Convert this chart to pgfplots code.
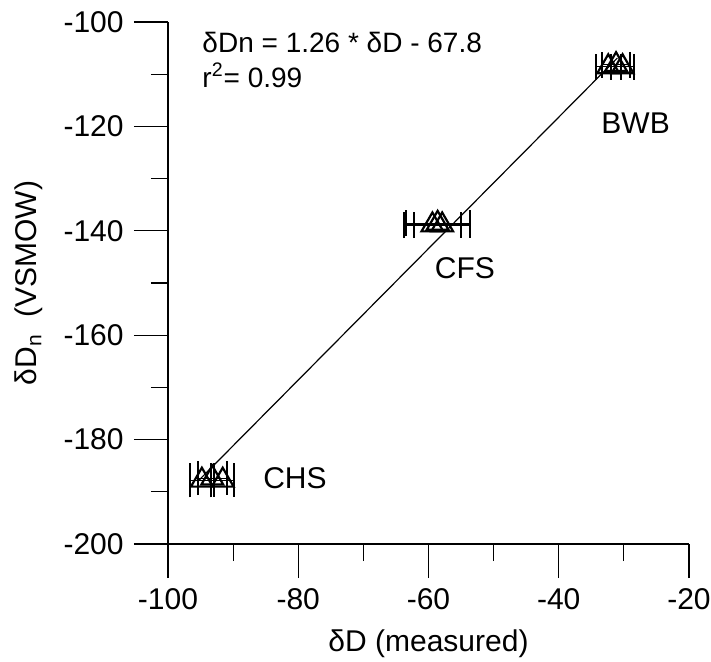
\documentclass[border=0pt]{standalone}
\usepackage{fontspec}
\setmainfont{Liberation Sans}
\usepackage{pgfplots}
\pgfplotsset{compat=1.18}

% measured delta D and normalised delta Dn, three sites
\pgfplotstableread{
x      y       ex
-94.8  -187.8  1.8
-93.2  -187.4  2.2
-91.6  -187.8  1.8
}\chs
\pgfplotstableread{
x      y       ex
-59.4  -138.9  4.4
-58.6  -138.6  4.9
-57.9  -138.9  4.3
}\cfs
\pgfplotstableread{
x      y       ex
-32.4  -108.6  1.9
-31.2  -108.2  2.2
-30.2  -108.6  1.8
}\bwb

\begin{document}
\fontsize{15}{18}\selectfont
\begin{tikzpicture}
\begin{axis}[
    name=ax,
    scale only axis,
    width=260.5pt, height=261pt,
    xmin=-100, xmax=-20,
    ymin=-200, ymax=-100,
    axis x line*=bottom, axis y line*=left,
    axis line style={-, line width=0.7pt},
    xtick={-100,-80,-60,-40,-20},
    xticklabels={-100,-80,-60,-40,-20},
    ytick={-200,-180,-160,-140,-120,-100},
    yticklabels={-200,-180,-160,-140,-120,-100},
    minor x tick num=1, minor y tick num=1,
    tick align=outside,
    major tick length=17pt, minor tick length=8.5pt,
    tick style={black, line width=0.6pt},
    every tick label/.append style={font=\fontsize{15}{18}\selectfont},
    xlabel={δD (measured)},
    ylabel={δD\textsubscript{n}\ \ (VSMOW)},
    label style={font=\fontsize{15}{18}\selectfont},
    clip=false,
]
% regression line
\addplot[black, line width=0.6pt] coordinates {(-95.5,-188.1) (-31,-106.9)};

\addplot[only marks, mark=triangle, mark size=6.3pt, black,
         mark options={line width=1.1pt},
         error bars/.cd, x dir=both, x explicit,
         error bar style={line width=0.6pt},
         error mark options={rotate=90, mark size=8.5pt, line width=1pt}]
    table[x=x, y=y, x error=ex] {\chs};
\addplot[only marks, mark=triangle, mark size=6.3pt, black,
         mark options={line width=1.1pt},
         error bars/.cd, x dir=both, x explicit,
         error bar style={line width=0.6pt},
         error mark options={rotate=90, mark size=6.5pt, line width=1pt}]
    table[x=x, y=y, x error=ex] {\cfs};
\addplot[only marks, mark=triangle, mark size=6.3pt, black,
         mark options={line width=1.1pt},
         error bars/.cd, x dir=both, x explicit,
         error bar style={line width=0.6pt},
         error mark options={rotate=90, mark size=6.5pt, line width=1pt}]
    table[x=x, y=y, x error=ex] {\bwb};

\node[anchor=west, font=\fontsize{14}{16}\selectfont] at (axis cs:-96.3,-104) {δDn = 1.26 * δD - 67.8};
\node[anchor=west, font=\fontsize{14}{16}\selectfont] at (axis cs:-96.3,-110.2) {r\textsuperscript{2}= 0.99};
\node at (axis cs:-54.4,-147.1) {CFS};
\node at (axis cs:-80.5,-187.4) {CHS};
\node at (axis cs:-28.2,-119.4) {BWB};
\end{axis}
\pgfresetboundingbox
\path ([shift={(-84pt,-59pt)}]ax.south west) rectangle ([shift={(11pt,11pt)}]ax.north east);
\end{tikzpicture}
\end{document}
